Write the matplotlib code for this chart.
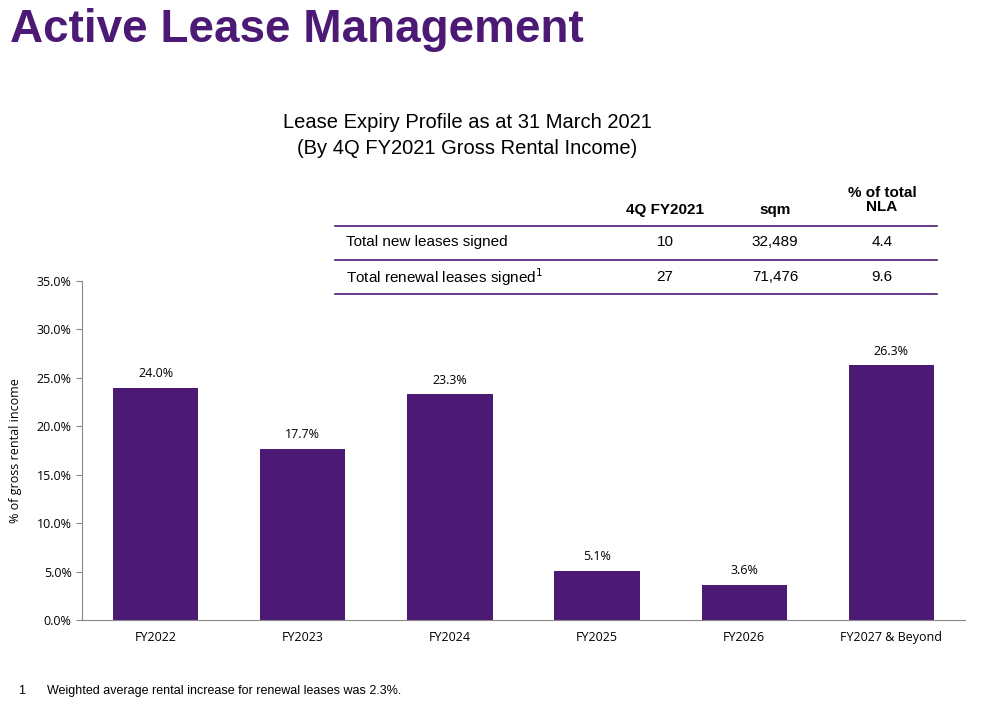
import matplotlib.pyplot as plt
from matplotlib.lines import Line2D

categories = ["FY2022", "FY2023", "FY2024", "FY2025", "FY2026", "FY2027 & Beyond"]
values = [24.0, 17.7, 23.3, 5.1, 3.6, 26.3]

table_cols = ["4Q FY2021", "sqm", "% of total\nNLA"]
table_rows = ["Total new leases signed", "Total renewal leases signed$^1$"]
table_vals = [["10", "32,489", "4.4"], ["27", "71,476", "9.6"]]

purple = "#4C1A75"
W, H = 987, 709

fig = plt.figure(figsize=(W / 100, H / 100), dpi=100)
ax = fig.add_axes([82 / W, 1 - 620 / H, (965 - 82) / W, (620 - 281) / H])

ax.bar(range(len(categories)), values, width=0.58, color=purple)
for i, v in enumerate(values):
    ax.text(i, v + 0.8, f"{v:.1f}%", ha="center", va="bottom", fontsize=9,
            family="Open Sans")
ax.set_xlim(-0.5, len(categories) - 0.5)
ax.set_ylim(0, 35)
ax.set_yticks([i * 5 for i in range(8)])
ax.set_yticklabels([f"{i * 5:.1f}%" for i in range(8)], fontsize=9, family="Open Sans")
ax.set_xticks(range(len(categories)))
ax.set_xticklabels(categories, fontsize=9, family="Open Sans")
ax.tick_params(axis="x", length=0, pad=8)
ax.tick_params(axis="y", length=4, color="#888888")
for s in ["top", "right"]:
    ax.spines[s].set_visible(False)
for s in ["left", "bottom"]:
    ax.spines[s].set_color("#888888")
ax.set_ylabel("% of gross rental income", fontsize=9, family="Open Sans")
ax.yaxis.set_label_coords(-0.068, 0.5)

fig.text(10 / W, 1 - 30 / H, "Active Lease Management", fontsize=33, fontweight="bold",
         color=purple, family="Liberation Sans", va="center")
fig.text(467 / W, 1 - 122 / H, "Lease Expiry Profile as at 31 March 2021", fontsize=14.5,
         ha="center", va="center", family="Liberation Sans")
fig.text(467 / W, 1 - 148 / H, "(By 4Q FY2021 Gross Rental Income)", fontsize=14.5,
         ha="center", va="center", family="Liberation Sans")

# table
col_x = [665, 775, 882]
head_y = [210, 210, 200]
for x, y, c in zip(col_x, head_y, table_cols):
    fig.text(x / W, 1 - y / H, c, fontsize=11, fontweight="bold", ha="center",
             va="center", family="Liberation Sans", linespacing=1.05)
row_y = [242, 277]
for y, name, vals in zip(row_y, table_rows, table_vals):
    fig.text(346 / W, 1 - y / H, name, fontsize=11, va="center", family="Liberation Sans")
    for x, v in zip(col_x, vals):
        fig.text(x / W, 1 - y / H, v, fontsize=11, ha="center", va="center",
                 family="Liberation Sans")
for y in [226, 260, 294]:
    fig.add_artist(Line2D([335 / W, 937 / W], [1 - y / H] * 2, color=purple, lw=1.2))

fig.text(18 / W, 1 - 691 / H, "1", fontsize=9, va="center", family="Liberation Sans")
fig.text(47 / W, 1 - 691 / H, "Weighted average rental increase for renewal leases was 2.3%.",
         fontsize=9, va="center", family="Liberation Sans")

fig.savefig("out.png", dpi=100)
